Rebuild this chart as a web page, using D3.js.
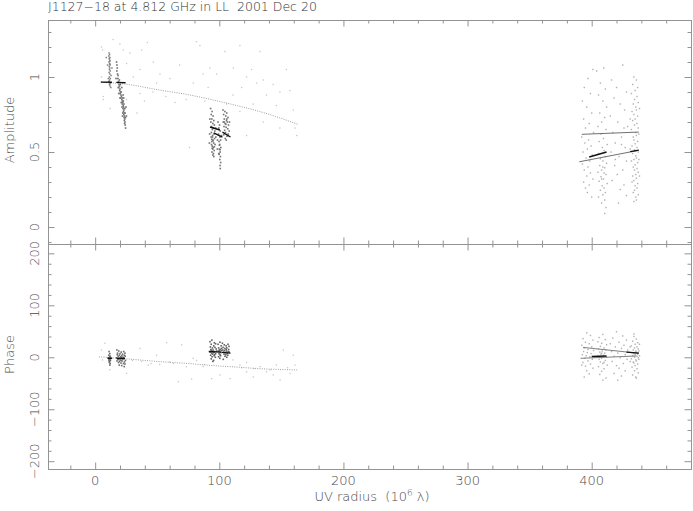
<!DOCTYPE html>
<html><head><meta charset="utf-8">
<script src="https://cdn.jsdelivr.net/npm/d3@7/dist/d3.min.js"></script>
<style>
html,body{margin:0;padding:0;background:#fff;}
svg{display:block;}
text{font-family:"DejaVu Sans",sans-serif;font-weight:200;fill:#4a4a4a;}
</style></head>
<body>
<svg id="c" width="693" height="511"></svg>
<script>
// ---------------- DATA ----------------
const titleText = "J1127\u221218 at 4.812 GHz in LL  2001 Dec 20";
const xTickLabels = [0, 100, 200, 300, 400];
const ampTickLabels = [0, 0.5, 1];
const phaseTickLabels = [-200, -100, 0, 100, 200];

// Amplitude: dense clusters [uv, amp]
const ampClusterA = [[11.2,1.16],[11.6,1.15],[11.0,1.14],[11.8,1.13],[11.4,1.12],[11.9,1.11],[11.1,1.10],[11.6,1.09],[12.0,1.08],[11.3,1.07],[11.7,1.06],[11.5,1.05],[12.1,1.04],[11.2,1.03],[11.8,1.02],[11.4,1.00],[12.2,0.99],[11.6,0.98],[11.0,0.97],[12.3,0.96],[11.5,0.95],[11.9,0.94],[12.6,0.93],[11.3,0.97],[12.0,0.955],[10.6,0.99],[12.8,1.01],[11.7,1.105],[11.5,1.125],[11.9,1.085],[9.0,1.13],[10.0,1.08],[13.5,1.06]];
const ampClusterB = [[17.2,1.10],[17.5,1.08],[17.8,1.06],[17.4,1.04],[18.0,1.02],[18.3,0.99],[18.8,0.97],[19.2,0.95],[19.6,0.94],[19.0,0.93],[20.0,0.92],[19.7,0.91],[20.4,0.90],[20.1,0.89],[20.8,0.88],[21.2,0.87],[20.6,0.86],[21.5,0.85],[21.9,0.84],[22.3,0.83],[21.8,0.82],[22.6,0.81],[22.9,0.80],[22.4,0.79],[23.1,0.78],[22.8,0.77],[23.4,0.76],[23.0,0.75],[23.6,0.74],[23.3,0.73],[23.8,0.72],[23.5,0.71],[24.0,0.70],[23.7,0.69],[24.2,0.68],[22.0,0.86],[22.7,0.84],[23.2,0.82],[21.0,0.90],[23.9,0.79],[24.1,0.76],[22.5,0.88],[20.3,0.95],[19.5,0.98],[18.5,1.01],[24.4,0.73],[21.6,0.80],[22.2,0.76],[23.0,0.86],[24.5,0.66],[19.0,0.89],[21.0,0.83],[20.0,0.86],[22.0,0.74],[24.8,0.80],[25.2,0.74],[18.6,0.93],[21.4,0.93],[16.8,0.99]];
const ampClusterC = [[93.0,0.79],[94.2,0.77],[93.5,0.75],[95.0,0.74],[94.0,0.72],[95.6,0.71],[93.2,0.70],[94.8,0.69],[96.0,0.68],[93.8,0.67],[95.2,0.66],[94.4,0.65],[96.4,0.64],[93.6,0.63],[95.8,0.62],[94.6,0.61],[93.4,0.60],[96.2,0.59],[94.9,0.58],[94.0,0.57],[95.5,0.56],[93.7,0.55],[96.6,0.55],[94.3,0.54],[95.1,0.53],[94.7,0.52],[95.9,0.51],[94.1,0.50],[95.3,0.49],[94.8,0.48],[95.6,0.47],[94.5,0.60],[95.0,0.575],[93.9,0.585],[96.0,0.535],[94.2,0.525],[92.2,0.62],[92.0,0.56],[97.2,0.60],[97.0,0.66],[92.4,0.72],
[99.0,0.70],[100.2,0.68],[99.6,0.66],[100.8,0.64],[99.4,0.62],[100.5,0.60],[101.0,0.58],[99.8,0.57],[100.3,0.55],[101.2,0.53],[100.0,0.52],[100.7,0.50],[99.6,0.49],[100.9,0.47],[100.4,0.45],[101.1,0.43],[100.6,0.41],[100.8,0.39],[100.1,0.545],[100.6,0.515],[99.9,0.485],[98.5,0.58],[98.4,0.52],[101.8,0.61],
[103.0,0.78],[104.5,0.77],[106.0,0.76],[103.5,0.75],[105.2,0.74],[107.0,0.73],[104.0,0.72],[105.8,0.71],[103.2,0.70],[106.5,0.70],[104.7,0.69],[107.4,0.68],[103.8,0.67],[105.5,0.665],[106.8,0.655],[104.3,0.645],[105.0,0.63],[107.2,0.62],[103.6,0.615],[106.2,0.605],[104.8,0.59],[105.6,0.58],[106.0,0.72],[104.0,0.70],[105.3,0.685],[108.2,0.70],[108.0,0.64]];
const ampClusterD = [[434,1.00],[436,0.98],[433,0.95],[437,0.93],[435,0.91],[432,0.89],[436.5,0.87],[434.5,0.85],[437.5,0.83],[433.5,0.82],[435.5,0.80],[436,0.78],[432.5,0.77],[434,0.75],[437,0.74],[435,0.72],[433,0.71],[436.5,0.69],[434.5,0.68],[437.5,0.66],[432,0.65],[435.5,0.63],[436,0.61],[433.5,0.60],[434,0.58],[437,0.57],[435,0.555],[432.5,0.54],[436.5,0.53],[434.5,0.515],[437.5,0.50],[433,0.49],[435.5,0.475],[436,0.46],[434,0.45],[432,0.44],[437,0.43],[435,0.415],[433.5,0.40],[436.5,0.39],[434.5,0.38],[437.5,0.365],[435.5,0.35],[433,0.34],[436,0.325],[434,0.31],[432.5,0.30],[437,0.29],[435,0.275],[436.5,0.26],[434.5,0.245],[433.5,0.23],[437.5,0.215],[435.5,0.20],[436,0.18],[434,0.17],[438,0.62],[438,0.45],[431,0.72],[431,0.52],[438.5,0.79],[438.5,0.34],
[409.7,1.06],[404,1.04],[407,0.96],[411,0.92],[405.5,0.88],[409,0.84],[412,0.80],[406.5,0.76],[410.5,0.73],[408,0.70],[405,0.67],[411.5,0.65],[407.5,0.62],[409.5,0.59],[406,0.57],[412.5,0.55],[408.5,0.53],[410,0.51],[405.5,0.49],[411,0.47],[407,0.455],[409,0.44],[412,0.425],[406.5,0.41],[410.5,0.395],[408,0.38],[405,0.365],[411.5,0.35],[407.5,0.335],[409.5,0.32],[406,0.305],[412.5,0.29],[408.5,0.275],[410,0.26],[407,0.245],[411,0.23],[409,0.215],[405.5,0.20],[410.5,0.18],[408,0.16],[411.5,0.13],[410.5,0.09],[409,0.40],[410,0.36],[408,0.32],
[401,1.05],[397,0.99],[394,0.93],[399,0.89],[392.5,0.84],[396,0.80],[400,0.76],[393.5,0.72],[398,0.69],[395,0.66],[401.5,0.63],[392,0.60],[397.5,0.58],[394.5,0.56],[399.5,0.54],[396.5,0.52],[393,0.50],[400.5,0.48],[395.5,0.46],[398.5,0.44],[392.5,0.42],[397,0.40],[394,0.38],[399,0.36],[396,0.34],[401,0.32],[393.5,0.30],[398,0.28],[395,0.26],[400,0.20],[396.5,0.23],
[425,1.08],[416,0.98],[420,0.93],[428,0.90],[418,0.86],[423,0.82],[426.5,0.78],[415,0.74],[421,0.70],[429,0.67],[417,0.63],[424,0.60],[419,0.56],[427,0.53],[415.5,0.50],[422,0.47],[428,0.44],[418.5,0.41],[425,0.38],[420.5,0.35],[416.5,0.31],[426,0.28],[423,0.25],[428,0.21],[421.6,0.16],[419,0.45],[424,0.55],[426,0.66]];
const ampSparse = [[5.1,1.20],[5.9,1.18],[14.5,1.25],[19.9,1.22],[22.6,1.18],[28,1.16],[25.3,1.09],[30.7,1.0],[36,1.05],[37.4,1.18],[42,1.23],[46.8,1.10],[52.2,1.02],[60.3,0.99],[49.5,0.96],[36,0.89],[25.3,0.85],[6.5,0.87],[6.5,0.85],[5.1,1.0],[12,0.79],[64.3,0.83],[81.7,1.235],[84.4,1.21],[87,1.02],[79,0.96],[76,0.53],[68,1.08],[92.4,1.06],[97.8,1.02],[104.5,1.17],[116.6,1.21],[111.3,1.06],[122,1.0],[126,1.05],[130,0.96],[135.4,0.98],[143.4,0.95],[148.8,0.90],[156.9,0.91],[159.6,0.78],[161,0.66],[162.4,0.61],[148.8,0.66],[135.4,0.70],[122,0.61],[116.6,0.77],[127.4,0.82],[111,0.88],[105.9,0.82],[91,0.93],[88.4,0.84],[138,0.88],[146,0.81],[132.7,1.17],[154,1.05],[118,0.93],[73.3,0.85],[57,0.87],[46.5,0.90],[39.7,0.84],[33.6,0.76]];
// Amplitude model: dotted curve and solid segments [uv, amp]
const ampModelCurve = [[5,0.965],[25,0.952],[52,0.913],[75,0.882],[95,0.847],[115,0.808],[133,0.769],[150,0.724],[163,0.685]];
const ampModelGrey = [[[392,0.618],[438,0.633]],[[390,0.435],[437,0.51]]];
const ampModelBlack = [[[4.5,0.966],[13.5,0.965]],[[17,0.964],[24.5,0.962]],[[92.5,0.667],[100.5,0.647]],[[95.5,0.627],[102.5,0.60]],[[102.5,0.633],[109,0.60]],[[398,0.467],[412,0.50]],[[431,0.503],[438,0.513]]];

// Phase: clusters [uv, deg]
const phClusterAB = [[11.2,11],[11.8,7],[11.0,4],[12.2,2],[11.5,0],[11.9,-1],[11.3,-2],[12.0,-3],[11.6,-4],[11.1,-5],[12.3,-6],[11.7,-8],[11.4,-10],[12.1,-12],[11.8,-15],[10.5,-1],[12.6,-2],[11.5,-3],[11.9,1],[11.2,-7],
[17.5,14],[19,12],[21,10],[23,11],[18,8],[20,7],[22,6],[24,8],[17.8,5],[19.5,4],[21.5,3],[23.5,4],[18.5,2],[20.5,1],[22.5,0],[24.2,2],[17.2,-1],[19.2,-2],[21.2,-1],[23.2,-3],[18.2,-4],[20.2,-5],[22.2,-4],[24.4,-6],[17.6,-7],[19.6,-8],[21.6,-7],[23.6,-9],[18.8,-10],[20.8,-11],[22.8,-12],[24,-13],[19.4,-15],[21.4,-16],[23.4,-18],[20,-2],[22,-3],[21,-6],[23,-1],[19,-4]];
const phClusterC = [[92.5,30],[94,33],[96,28],[93.5,25],[95.5,22],[97,26],[92.8,20],[94.5,18],[96.5,19],[93.2,15],[95,14],[97.5,16],[94,12],[96,11],[92.6,10],[95.2,9],[93.8,8],[97,7],[94.6,6],[96.3,5],[93,4],[95.8,3],[94.2,1],[96.8,0],[93.5,-3],[95.4,-6],[94.8,-8],[97.8,12],[93.6,13],[95.6,10],
[99,25],[100.5,29],[101.5,22],[99.5,18],[100.8,15],[101.8,17],[99.2,12],[100.2,11],[101.3,9],[99.8,7],[100.6,5],[101,3],[99.4,1],[100.4,-2],[101.6,13],[100,14],
[102.5,27],[104,24],[105.5,22],[107,25],[103,19],[104.5,17],[106,18],[107.5,15],[102.8,14],[104.2,13],[105.8,12],[107.2,11],[103.5,10],[105,9],[106.5,8],[108,10],[103.8,6],[105.3,5],[106.8,4],[104.6,2],[106,0],[103.2,-4],[107.8,21],[105.6,15]];
const phClusterD = [[434,40],[436,35],[433,31],[437,28],[435,25],[432,22],[436.5,20],[434.5,18],[437.5,16],[433.5,14],[435.5,12],[436,10],[432.5,9],[434,7],[437,6],[435,5],[433,3],[436.5,2],[434.5,0],[437.5,-1],[432,-3],[435.5,-5],[436,-7],[433.5,-9],[434,-11],[437,-13],[435,-16],[432.5,-19],[436.5,-22],[434.5,-26],[437.5,-30],[433,-34],[435.5,-38],[438,12],[438,-4],[431,20],[431,-8],[438.5,25],[438.5,3],[434,45],[436,-40],
[409,44],[406,38],[411,34],[405,30],[408,27],[412,24],[407,21],[410,18],[405.5,16],[411.5,14],[408.5,12],[406.5,10],[410.5,8],[407.5,6],[409.5,4],[405,2],[412,0],[408,-2],[406,-4],[411,-6],[407,-9],[409,-12],[412.5,-15],[405.5,-18],[410,-22],[408,-27],[406.5,-33],[411.5,-40],[409,-44],[410,-10],[408,8],
[396,47],[399,42],[393,36],[401,33],[395,29],[398,26],[392,23],[400,20],[394,18],[397,15],[401.5,13],[393.5,11],[396.5,9],[399.5,7],[392.5,5],[395.5,3],[398.5,1],[394.5,-2],[400.5,-4],[397,-7],[393,-10],[399,-13],[395,-17],[401,-21],[396,-26],[398,-32],[394,-38],[392,-15],
[420,49],[425,41],[417,37],[428,33],[422,29],[415,26],[426,23],[419,20],[424,17],[429,14],[416,11],[421,8],[427,5],[418,2],[423,-1],[428.5,-4],[416.5,-8],[425.5,-12],[420,-16],[422,-21],[427,-26],[418,-31],[424,-36],[421,-44]];
const phSparse = [[7.8,27],[5.1,14],[5.9,-5],[11.8,-24],[25.3,-31],[36,17],[37.4,-8],[42.8,-15],[49.5,4],[57.6,28],[60,-9],[67,-47],[77.7,-42],[79,-2],[81.7,-6],[69.7,24],[52,-14],[73.5,-18],[87,-18],[100.6,-34],[111,-5],[116.6,-15],[122,-28],[133,-18],[138,-28],[143.4,-34],[149,-44],[151.6,14],[159.6,4],[161,-15],[157,-31],[127.4,-38],[108.6,-41],[93.8,-41],[146,-15],[122,-10],[30,-6],[45,-12],[63,-12],[88,-14],[118,-20],[128,-22],[141,-24],[155,-20]];
const phModelCurve = [[3,1],[25,-3],[52,-8.4],[75,-12],[95,-16],[115,-19],[133,-22],[150,-23.5],[163,-24.4]];
const phModelGrey = [[[393,19],[438,7.7]],[[391,-2],[436,2.5]]];
const phModelBlack = [[[10,-2],[13.7,-2]],[[17.2,-2],[24,-2]],[[91.5,11],[101.5,10]],[[102,9.5],[109,8]],[[400,1.5],[412,2.5]],[[428,10],[438,8]]];

// ---------------- LAYOUT ----------------
const L = 48, R = 691, T = 20, M = 244, B = 469;
const svg = d3.select("#c");
const x = d3.scaleLinear().domain([-38, 480]).range([L, R]);
const yA = d3.scaleLinear().domain([-0.113, 1.38]).range([M, T]);
const yP = d3.scaleLinear().domain([-215, 218]).range([B, M]);

const frameCol = "#939393";
const xMinor = d3.range(-20, 481, 20).filter(v => v % 100 !== 0);
const ampMinor = d3.range(-1, 14).map(v => v / 10).filter(v => Math.abs((v * 10) % 5) > 1e-6);
const phMinor = d3.range(-200, 201, 20).filter(v => v % 100 !== 0);

function tickAxis(gen, values, size, tr) {
  const g = svg.append("g").attr("transform", tr)
    .call(gen.tickValues(values).tickSize(-size).tickSizeOuter(0).tickFormat(""));
  g.select(".domain").remove();
  g.selectAll("line").attr("stroke", frameCol).attr("stroke-width", 1);
}
[[() => d3.axisTop(x), `translate(0,${T})`], [() => d3.axisBottom(x), `translate(0,${M})`],
 [() => d3.axisTop(x), `translate(0,${M})`], [() => d3.axisBottom(x), `translate(0,${B})`]].forEach(([mk, tr]) => {
  tickAxis(mk(), xTickLabels, 6.5, tr);
  tickAxis(mk(), xMinor, 3.5, tr);
});
tickAxis(d3.axisLeft(yA), ampTickLabels, 6.5, `translate(${L},0)`);
tickAxis(d3.axisLeft(yA), ampMinor, 3.5, `translate(${L},0)`);
tickAxis(d3.axisRight(yA), ampTickLabels, 6.5, `translate(${R},0)`);
tickAxis(d3.axisRight(yA), ampMinor, 3.5, `translate(${R},0)`);
tickAxis(d3.axisLeft(yP), phaseTickLabels, 6.5, `translate(${L},0)`);
tickAxis(d3.axisLeft(yP), phMinor, 3.5, `translate(${L},0)`);
tickAxis(d3.axisRight(yP), phaseTickLabels, 6.5, `translate(${R},0)`);
tickAxis(d3.axisRight(yP), phMinor, 3.5, `translate(${R},0)`);

svg.append("rect").attr("x", L + 0.5).attr("y", T + 0.5).attr("width", R - L).attr("height", M - T)
  .attr("fill", "none").attr("stroke", frameCol);
svg.append("rect").attr("x", L + 0.5).attr("y", M + 0.5).attr("width", R - L).attr("height", B - M)
  .attr("fill", "none").attr("stroke", frameCol);

// ---------------- MARKS ----------------
function dots(data, y, col, s) {
  svg.append("g").selectAll("rect").data(data).join("rect")
    .attr("x", d => x(d[0]) - s / 2).attr("y", d => y(d[1]) - s / 2)
    .attr("width", s).attr("height", s).attr("fill", col);
}
function segs(list, y, col, w) {
  const line = d3.line().x(d => x(d[0])).y(d => y(d[1]));
  list.forEach(s => svg.append("path").attr("d", line(s)).attr("fill", "none")
    .attr("stroke", col).attr("stroke-width", w));
}
function dotted(data, y) {
  const line = d3.line().curve(d3.curveMonotoneX).x(d => x(d[0])).y(d => y(d[1]));
  svg.append("path").attr("d", line(data)).attr("fill", "none")
    .attr("stroke", "#a0a0a0").attr("stroke-width", 1).attr("stroke-dasharray", "1,1.3");
}

dots(ampSparse, yA, "#c8c8c8", 1.3);
dotted(ampModelCurve, yA);
dots(ampClusterA, yA, "#808080", 1.5);
dots(ampClusterB, yA, "#707070", 1.6);
dots(ampClusterC, yA, "#737373", 1.6);
dots(ampClusterD, yA, "#b0b0b0", 1.4);
segs(ampModelGrey, yA, "#707070", 1);
segs(ampModelBlack, yA, "#111", 1.4);

dots(phSparse, yP, "#c8c8c8", 1.3);
dotted(phModelCurve, yP);
dots(phClusterAB, yP, "#6e6e6e", 1.6);
dots(phClusterC, yP, "#626262", 1.6);
dots(phClusterD, yP, "#b0b0b0", 1.4);
segs(phModelGrey, yP, "#808080", 1);
segs(phModelBlack, yP, "#111", 1.4);

// ---------------- TEXT ----------------
const fmtMinus = v => String(v).replace("-", "\u2212");
svg.append("text").attr("x", 48).attr("y", 11).attr("font-size", 12.5)
  .style("white-space", "pre").style("fill", "#333").text(titleText);

svg.append("g").selectAll("text").data(xTickLabels).join("text")
  .attr("x", d => x(d)).attr("y", 485).attr("text-anchor", "middle")
  .attr("font-size", 13).text(d => fmtMinus(d));

svg.append("g").selectAll("text").data(ampTickLabels).join("text")
  .attr("transform", d => `translate(34,${yA(d)}) rotate(-90)`)
  .attr("text-anchor", "middle").attr("dy", "0.36em").attr("font-size", 13).text(d => fmtMinus(d));
svg.append("g").selectAll("text").data(phaseTickLabels).join("text")
  .attr("transform", d => `translate(34,${yP(d)}) rotate(-90)`)
  .attr("text-anchor", "middle").attr("dy", "0.36em").attr("font-size", 13).text(d => fmtMinus(d));

svg.append("text").attr("transform", `translate(9,${(T + M) / 2 - 2}) rotate(-90)`)
  .attr("text-anchor", "middle").attr("dy", "0.36em").attr("font-size", 13).text("Amplitude");
svg.append("text").attr("transform", `translate(9,${(M + B) / 2 - 2}) rotate(-90)`)
  .attr("text-anchor", "middle").attr("dy", "0.36em").attr("font-size", 13).text("Phase");

const xt = svg.append("text").attr("x", 372).attr("y", 501).attr("text-anchor", "middle")
  .attr("font-size", 13).style("white-space", "pre");
xt.append("tspan").text("UV radius  (10");
xt.append("tspan").attr("dy", -5).attr("font-size", 9).text("6");
xt.append("tspan").attr("dy", 5).text(" \u03bb)");
</script>
</body></html>
